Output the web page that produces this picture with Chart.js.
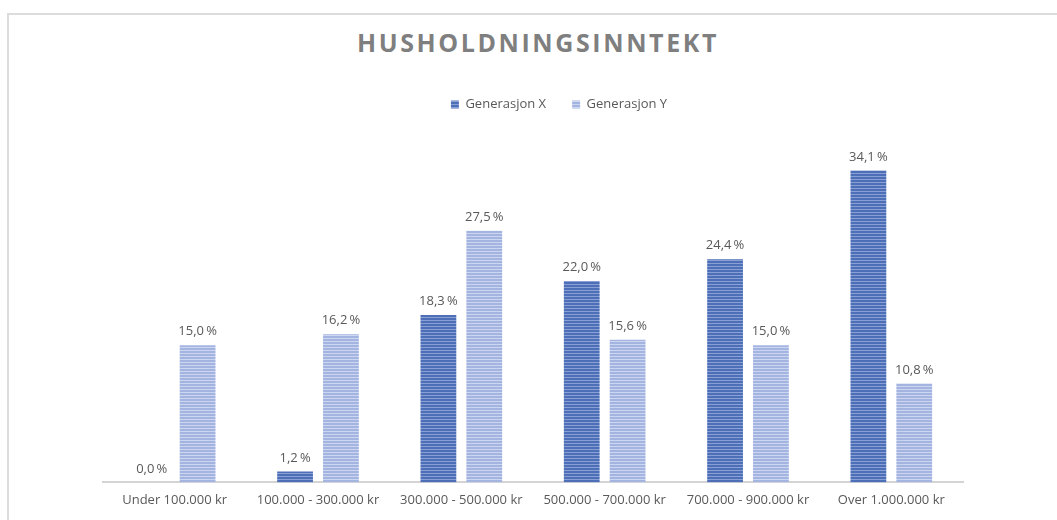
<!DOCTYPE html>
<html lang="no">
<head>
    <meta charset="UTF-8">
    <title>Husholdningsinntekt</title>
    <script src="https://cdn.jsdelivr.net/npm/chart.js"></script>
    <style>
        body {
            margin: 0;
            background: #ffffff;
            font-family: "Open Sans", Arial, sans-serif;
        }
        #frame {
            position: absolute;
            left: 7px;
            top: 13px;
            width: 1050px;
            height: 507px;
            border-top: 2px solid #dcdcdc;
            border-left: 2px solid #dcdcdc;
        }
        #title {
            position: absolute;
            left: 0;
            width: 1076px;
            top: 25px;
            margin: 0;
            text-align: center;
            font-size: 25px;
            font-weight: bold;
            letter-spacing: 2.6px;
            color: #7f7f7f;
        }
        #wrap {
            position: absolute;
            left: 0;
            top: 0;
            width: 1057px;
            height: 520px;
        }
    </style>
</head>
<body>
<div id="frame"></div>
<h1 id="title">HUSHOLDNINGSINNTEKT</h1>
<div id="wrap"><canvas id="myChart" width="1057" height="520"></canvas></div>

<script>
    var categories = ['Under 100.000 kr', '100.000 - 300.000 kr', '300.000 - 500.000 kr',
        '500.000 - 700.000 kr', '700.000 - 900.000 kr', 'Over 1.000.000 kr'];
    var genX = [0.0, 1.2, 18.3, 22.0, 24.4, 34.1];
    var genY = [15.0, 16.2, 27.5, 15.6, 15.0, 10.8];

    var FONT = '"Open Sans", Arial, sans-serif';

    // striped fill like the original
    function stripes(base, light) {
        var c = document.createElement('canvas');
        c.width = 4;
        c.height = 3;
        var g = c.getContext('2d');
        g.fillStyle = base;
        g.fillRect(0, 0, 4, 3);
        g.fillStyle = light;
        g.fillRect(0, 2, 4, 1);
        return g.createPattern(c, 'repeat');
    }

    var fillX = stripes('#4d6fb7', '#8aa0d4');
    var fillY = stripes('#a4b4e1', '#cdd6f0');

    var valueLabels = {
        id: 'valueLabels',
        afterDatasetsDraw: function (chart) {
            var ctx = chart.ctx;
            ctx.save();
            ctx.font = '13px ' + FONT;
            ctx.fillStyle = '#595959';
            ctx.textAlign = 'center';
            ctx.textBaseline = 'bottom';
            chart.data.datasets.forEach(function (ds, i) {
                chart.getDatasetMeta(i).data.forEach(function (bar, j) {
                    var txt = ds.data[j].toFixed(1).replace('.', ',') + '\u2009%';
                    ctx.fillText(txt, bar.x, bar.y - 7);
                });
            });
            ctx.restore();
        }
    };

    // the legend in the original sits a bit right of centre
    var legendShift = {
        id: 'legendShift',
        afterLayout: function (chart) {
            var lg = chart.legend;
            lg.left += 26;
            lg.right += 26;
        }
    };

    var ctx = document.getElementById('myChart').getContext('2d');
    var myChart = new Chart(ctx, {
        type: 'bar',
        data: {
            labels: categories,
            datasets: [{
                label: 'Generasjon X',
                data: genX,
                backgroundColor: fillX,
                borderWidth: 0
            }, {
                label: 'Generasjon Y',
                data: genY,
                backgroundColor: fillY,
                borderWidth: 0
            }]
        },
        options: {
            responsive: false,
            animation: false,
            layout: {
                padding: { top: 72, left: 103, right: 94, bottom: 10 }
            },
            datasets: {
                bar: { categoryPercentage: 0.64, barPercentage: 0.78 }
            },
            plugins: {
                legend: {
                    position: 'top',
                    labels: {
                        boxWidth: 8,
                        boxHeight: 8,
                        padding: 26,
                        color: '#595959',
                        font: { family: FONT, size: 13 }
                    }
                },
                tooltip: { enabled: false },
                title: { display: false }
            },
            scales: {
                x: {
                    grid: { display: false },
                    border: { color: '#d4d4d4', width: 2 },
                    ticks: {
                        color: '#595959',
                        padding: 2,
                        maxRotation: 0,
                        font: { family: FONT, size: 13 }
                    }
                },
                y: {
                    display: false,
                    min: 0,
                    max: 39.5
                }
            }
        },
        plugins: [valueLabels, legendShift]
    });
</script>
</body>
</html>
